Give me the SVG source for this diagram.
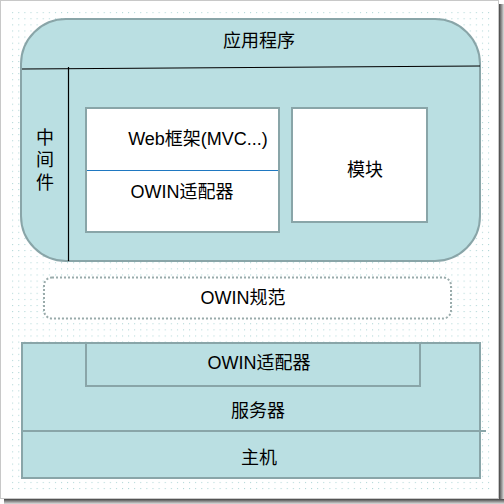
<svg xmlns="http://www.w3.org/2000/svg" width="504" height="504" viewBox="0 0 504 504">
<style>
text{font-family:"Liberation Sans","Noto Sans CJK SC",sans-serif;font-size:18px;fill:#000;text-anchor:middle;dominant-baseline:central}
.teal{fill:#badfe2;stroke:#89a5a8;stroke-width:2}
.wbox{fill:#fff;stroke:#89a5a8;stroke-width:2}
.blk{stroke:#000;stroke-width:1.2;fill:none}
</style>
<defs>
<pattern id="dots" x="0" y="0" width="6.1" height="6.1" patternUnits="userSpaceOnUse">
<rect x="0" y="0" width="1" height="1" fill="#a8d2d2"/>
</pattern>
<linearGradient id="shR" x1="0" y1="0" x2="1" y2="0"><stop offset="0" stop-color="#444"/><stop offset="1" stop-color="#ddd"/></linearGradient>
<linearGradient id="shB" x1="0" y1="0" x2="0" y2="1"><stop offset="0" stop-color="#444"/><stop offset="1" stop-color="#ddd"/></linearGradient>
</defs>
<g id="frame">
<rect x="0" y="0" width="504" height="504" fill="#fff"/>
<rect x="499" y="4" width="5" height="500" fill="url(#shR)"/>
<rect x="4" y="499" width="500" height="5" fill="url(#shB)"/>
<rect x="0.5" y="0.5" width="498" height="498" fill="#fff" stroke="#c8c8c8" stroke-width="1"/>
<rect x="12" y="9" width="480" height="484" fill="url(#dots)"/>
</g>
<g id="app">
<rect class="teal" x="21" y="19" width="459" height="242" rx="45" ry="45"/>
<text x="259" y="41">应用程序</text>
</g>
<g id="middleware">
<text x="45" y="138">中</text>
<text x="45" y="160">间</text>
<text x="45" y="183">件</text>
</g>
<g id="connectors">
<line class="blk" x1="22" y1="69" x2="480" y2="66"/>
<line class="blk" x1="68.5" y1="67" x2="68.5" y2="261"/>
</g>
<g id="webframework">
<rect class="wbox" x="86" y="108" width="193" height="124"/>
<line x1="87" y1="170.5" x2="278" y2="170.5" stroke="#1f78c1" stroke-width="1.2"/>
<text x="198" y="139">Web框架(MVC...)</text>
<text x="182" y="192">OWIN适配器</text>
</g>
<g id="module">
<rect class="wbox" x="292" y="108" width="135" height="114"/>
<text x="365" y="170">模块</text>
</g>
<g id="owinspec">
<rect x="44" y="277.5" width="407" height="41" rx="8" ry="8" fill="#fff" stroke="#9aabab" stroke-width="2" stroke-dasharray="2,2"/>
<text x="243" y="298">OWIN规范</text>
</g>
<g id="server">
<rect class="teal" x="22" y="343" width="458" height="135"/>
<rect class="teal" x="86" y="343" width="334" height="43"/>
<text x="259" y="363">OWIN适配器</text>
<text x="258" y="411">服务器</text>
</g>
<g id="host">
<line x1="22" y1="431" x2="486" y2="431" stroke="#89a5a8" stroke-width="2"/>
<text x="259" y="458">主机</text>
</g>
</svg>
